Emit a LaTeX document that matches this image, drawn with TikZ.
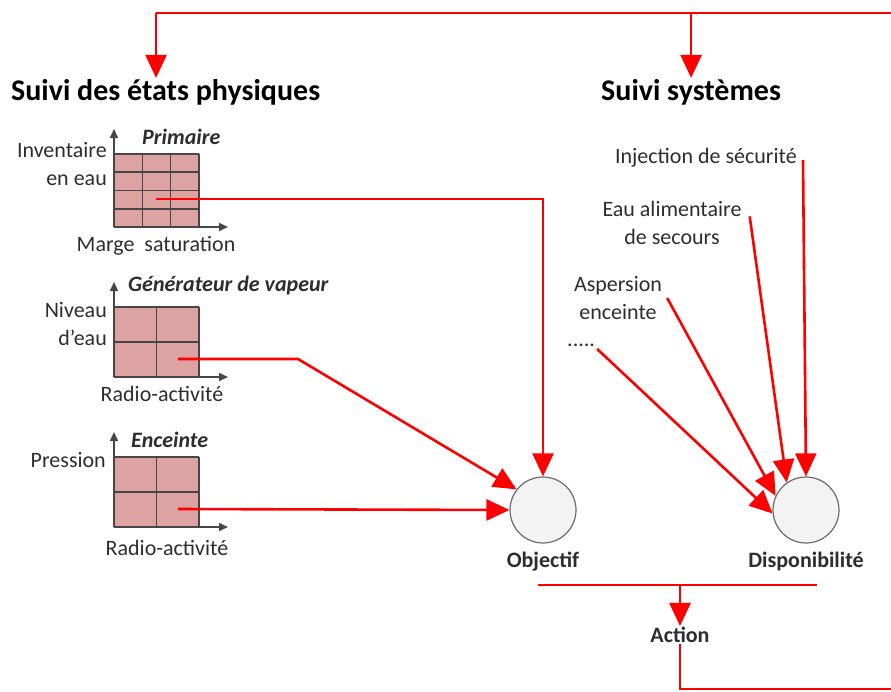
\documentclass[tikz,border=0pt]{standalone}
\usepackage{fontspec}
\setmainfont{Carlito}
\usetikzlibrary{arrows.meta,positioning,calc}
\definecolor{cellpink}{RGB}{221,163,163}
\definecolor{axisgray}{RGB}{70,70,70}
\definecolor{txtgray}{RGB}{45,45,45}
\definecolor{discfill}{RGB}{243,243,243}
\definecolor{flowred}{RGB}{255,0,0}

\begin{document}
\begin{tikzpicture}[x=1pt,y=-1pt,
	link/.style={draw=flowred, line width=2.6pt},
	flow/.style={link, -{Triangle[width=21pt,length=23pt]}},
	axis/.style={draw=axisgray, line width=1.6pt, -{Triangle[width=8pt,length=9pt]}},
	gridline/.style={draw=axisgray, line width=1.6pt},
	lbl/.style={font=\fontsize{22}{27.5}\selectfont, text=txtgray, inner sep=1pt},
	charttitle/.style={font=\fontsize{22}{26}\selectfont\bfseries\itshape, text=txtgray, inner sep=1pt},
	heading/.style={font=\fontsize{30}{34}\selectfont\bfseries, inner sep=1pt},
	result/.style={font=\fontsize{22}{26}\selectfont\bfseries, text=txtgray, inner sep=1pt},
	disc/.style={circle, draw=axisgray!80, line width=1.2pt, fill=discfill, minimum size=66pt, inner sep=0pt}]
	\useasboundingbox (0,0) rectangle (891,691);

	% charts: name / top / bottom / columns / rows
	\foreach \nm/\top/\bot/\nc/\nr in {prim/154/227/3/4, gv/307/377/2/2, enc/457/527/2/2} {
		\fill[cellpink] (114,\top) rectangle (199,\bot);
		\foreach \i in {0,...,\nc}
			\draw[gridline] ({114+\i*85/\nc},\top) -- ({114+\i*85/\nc},\bot);
		\foreach \j in {0,...,\nr}
			\draw[gridline] (114,{\top+\j*(\bot-\top)/\nr}) -- (199,{\top+\j*(\bot-\top)/\nr});
		\draw[axis] (114,\bot) -- (114,\top-25);
		\draw[axis] (114,\bot) -- (228,\bot);
	};
	\coordinate (prim-src) at (156,199);
	\coordinate (gv-src) at (178,359);
	\coordinate (enc-src) at (178,509);

	\node[charttitle, anchor=west] (prim-t) at (141,137) {Primaire};
	\node[lbl, anchor=east, align=right] (prim-y) at (108,164) {Inventaire\\en eau};
	\node[lbl] (prim-x) at (156,246) {Marge\ \ saturation};
	\node[charttitle, anchor=west] (gv-t) at (127,286) {Générateur de vapeur};
	\node[lbl, anchor=east, align=right] (gv-y) at (108,324) {Niveau\\d’eau};
	\node[lbl] (gv-x) at (162,394) {Radio-activité};
	\node[charttitle, anchor=west] (enc-t) at (130,440) {Enceinte};
	\node[lbl, anchor=east] (enc-y) at (107,460) {Pression};
	\node[lbl] (enc-x) at (167,548) {Radio-activité};

	\node[heading, anchor=west] (phys) at (10,92) {Suivi des états physiques};
	\node[heading, anchor=west] (sys) at (600,92) {Suivi systèmes};

	\node[lbl, anchor=east] (inj) at (798,158) {Injection de sécurité};
	\node[lbl, align=center] (eau) at (672,223) {Eau alimentaire\\de secours};
	\node[lbl, align=center] (asp) at (618,298) {Aspersion\\enceinte};
	\node[lbl, anchor=west] (more) at (566,345) {.....};

	\node[disc] (obj) at (543,510) {};
	\node[result] (obj-l) at (543,562) {Objectif};
	\node[disc] (dispo) at (806,510) {};
	\node[result] (dispo-l) at (806,562) {Disponibilité};
	\node[result] (act) at (680,635) {Action};

	% loop back to the top
	\coordinate (loop-top) at (891,13);
	\coordinate (loop-bot) at (891,689);
	\coordinate (top-l) at (156,13);
	\coordinate (bar-l) at (538,585);
	\coordinate (bar-r) at (817,585);
	\coordinate (gv-bend) at (298,359);
	\draw[link] (top-l) -- (loop-top);
	\draw[flow] (top-l) -- (top-l |- phys.north);
	\draw[flow] (sys.north |- top-l) -- (sys.north);

	\draw[flow] (prim-src) -| (obj.north);
	\draw[flow] (gv-src) -- (gv-bend) -- (obj.142);
	\draw[flow] (enc-src) -- (obj.west);

	\draw[flow] ($(inj.east)+(5,2)$) -- (dispo.north);
	\draw[flow] ($(eau.north east)+(7,16)$) -- (dispo.125);
	\draw[flow] ($(asp.east)+(4,0)$) -- (dispo.155);
	\draw[flow] ($(more.east)+(1,4)$) -- (dispo.186);

	\draw[link] (bar-l) -- (bar-r);
	\draw[flow] (bar-l -| act) -- (act.north);
	\draw[link] (act.south) |- (loop-bot);
\end{tikzpicture}
\end{document}
